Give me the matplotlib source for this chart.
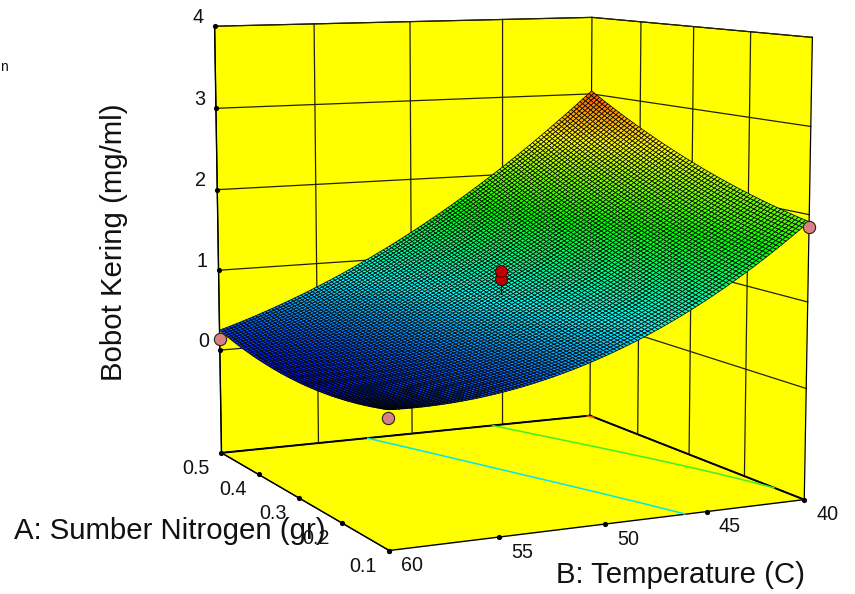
import numpy as np
import matplotlib
matplotlib.use('Agg')
import matplotlib.pyplot as plt
from matplotlib.colors import LinearSegmentedColormap
from matplotlib.transforms import ScaledTranslation

plt.rcParams['font.family'] = ['Liberation Sans', 'DejaVu Sans']

# Axis ticks
a_ticks = [0.1, 0.2, 0.3, 0.4, 0.5]
b_ticks = [40, 45, 50, 55, 60]
z_ticks = [0, 1, 2, 3, 4]
z_floor = -1.3

# Response read at the corners, edge midpoints and centre of the surface
a_read = [0.1, 0.3, 0.5]
b_read = [40, 50, 60]
z_read = [[1.92, 0.59, 0.22],
          [2.35, 0.90, 0.06],
          [3.04, 1.32, 0.25]]

# Design points
pink_a = [0.5, 0.1, 0.1]
pink_b = [60, 60, 40]
pink_z = [0.14, 0.13, 1.86]
red_a = [0.3, 0.3]
red_b = [50, 50]
red_z = [1.08, 1.17]

contour_levels = [1, 2, 3]
contour_colors = ['#00e8e8', '#40f020', '#ff5000']

W, H = 855, 594
fig = plt.figure(figsize=(W/100, H/100), dpi=100, facecolor='white')
S = 746.3
ax = fig.add_axes([117.88/W, -45.47/H, S/W, S/H], projection='3d', computed_zorder=False)
ax.patch.set_visible(False)
ax.view_init(8.139, 154.062, 0)
ax.set_proj_type('persp', focal_length=0.6226)
ax.set_box_aspect((1, 0.9885, 1.0089), zoom=1)
ax.set_xlim(a_ticks[0], a_ticks[-1])
ax.set_ylim(b_ticks[0], b_ticks[-1])
ax.set_zlim(z_floor, z_ticks[-1])

YEL = (1, 1, 0, 1)
for axis in (ax.xaxis, ax.yaxis, ax.zaxis):
    axis.set_pane_color(YEL)
    axis.pane.set_edgecolor('black')
    axis.pane.set_linewidth(0.8)
    axis.line.set_color('black')
    axis.line.set_linewidth(1.0)
    axis._axinfo['tick']['inward_factor'] = 0
    axis._axinfo['tick']['outward_factor'] = 0
ax.grid(False)
ax.zaxis.set_ticks_position('upper')

ax.set_xticks(a_ticks)
ax.set_yticks(b_ticks)
ax.set_zticks(z_ticks)
ax.set_xticklabels([f'{v:.1f}' for v in a_ticks])
ax.set_yticklabels([str(v) for v in b_ticks])
ax.set_zticklabels([str(v) for v in z_ticks])
ax.tick_params(labelsize=14.2, colors='#111111', pad=-8)

def offset_labels(axis, dx, dy):
    tr = ax.transData + ScaledTranslation(dx/100, dy/100, fig.dpi_scale_trans)
    base = axis.get_major_ticks
    def patched(numticks=None):
        ticks = base(numticks)
        for t in ticks:
            t.label1.set_transform(tr)
        return ticks
    axis.get_major_ticks = patched
offset_labels(ax.xaxis, -26, -6)
offset_labels(ax.yaxis, 23, -5.5)
offset_labels(ax.zaxis, -16.5, 18.5)

gc = {'color': '#222200', 'lw': 0.9, 'zorder': 1}
for b in b_ticks[1:-1]:
    ax.plot([a_ticks[-1]]*2, [b, b], [z_floor, z_ticks[-1]], **gc)
for a in a_ticks[1:-1]:
    ax.plot([a, a], [b_ticks[0]]*2, [z_floor, z_ticks[-1]], **gc)
for z in z_ticks:
    ax.plot([a_ticks[-1]]*2, [b_ticks[-1], b_ticks[0]], [z, z], **gc)
    ax.plot([a_ticks[-1], a_ticks[0]], [b_ticks[0]]*2, [z, z], **gc)
fl = {'color': 'black', 'lw': 1.4, 'zorder': 1}
ax.plot([a_ticks[-1]]*2, [b_ticks[-1], b_ticks[0]], [z_floor]*2, **fl)
ax.plot([a_ticks[-1], a_ticks[0]], [b_ticks[0]]*2, [z_floor]*2, **fl)
ax.plot([a_ticks[0]]*2, [b_ticks[0]]*2, [z_floor, z_ticks[-1]], color='black', lw=0.9, zorder=1)

# Tick dots
dot = {'color': 'black', 's': 14, 'depthshade': False, 'zorder': 6, 'linewidths': 0}
ax.scatter(a_ticks, [b_ticks[-1]]*5, [z_floor]*5, **dot)
ax.scatter([a_ticks[0]]*5, b_ticks, [z_floor]*5, **dot)
ax.scatter([a_ticks[-1]]*5, [b_ticks[-1]]*5, z_ticks, **dot)

# Surface mesh through the read values
def lag(x, nodes):
    n0, n1, n2 = nodes
    return np.array([(x-n1)*(x-n2)/((n0-n1)*(n0-n2)),
                     (x-n0)*(x-n2)/((n1-n0)*(n1-n2)),
                     (x-n0)*(x-n1)/((n2-n0)*(n2-n1))])
A_f = np.linspace(a_ticks[0], a_ticks[-1], 71)
B_f = np.linspace(b_ticks[0], b_ticks[-1], 121)
Z_f = lag(A_f, a_read).T @ np.array(z_read) @ lag(B_f, b_read)
BB, AA = np.meshgrid(B_f, A_f)

cmap = LinearSegmentedColormap.from_list('de', ['#0000ff', '#00ffff', '#00ff00', '#ffff00', '#ff0000'])
norm = plt.Normalize(0.0, 3.3)
ax.contour(AA, BB, Z_f, levels=contour_levels, colors=contour_colors, zdir='z', offset=z_floor,
           linewidths=1.1, zorder=2)
ax.plot_surface(AA, BB, Z_f, facecolors=cmap(norm(Z_f)), edgecolor='black', linewidth=0.52,
                rstride=1, cstride=1, shade=False, antialiased=True, zorder=3)

ax.plot([red_a[0]]*2, [red_b[0]]*2, [z_read[1][1], red_z[0]], color='black', lw=0.8, zorder=4)
ax.scatter(red_a, red_b, red_z, s=72, c='#c00000', edgecolors='#400000', linewidths=0.7,
           depthshade=False, zorder=5)
ax.scatter(pink_a, pink_b, pink_z, s=78, c='#d98080', edgecolors='#222222', linewidths=0.8,
           depthshade=False, zorder=7)

fig.text(14/W, 1-531/H, 'A: Sumber Nitrogen (gr)', fontsize=21.2, color='#111111', va='center', ha='left')
fig.text(805/W, 1-575/H, 'B: Temperature (C)', fontsize=21.2, color='#111111', va='center', ha='right')
fig.text(114/W, 1-242/H, 'Bobot Kering (mg/ml)', fontsize=21.2, color='#111111', va='center', ha='center', rotation=90)
fig.text(0, 1-67/H, 'n', fontsize=10, color='#111111', va='center', ha='left')

fig.savefig('out.png', dpi=100)
